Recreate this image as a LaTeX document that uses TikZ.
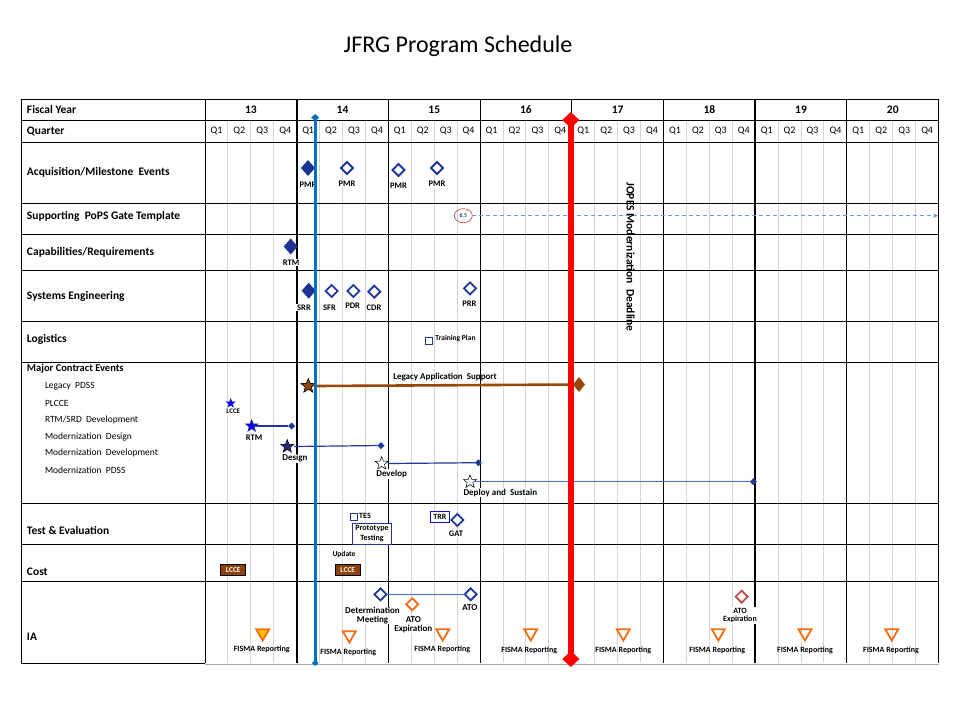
\documentclass[tikz,border=0pt]{standalone}
\usepackage{fontspec}
\setmainfont{Carlito}
\usetikzlibrary{shapes.geometric,arrows.meta}

\definecolor{msnavy}{RGB}{31,56,156}
\definecolor{fillnavy}{RGB}{30,50,150}
\definecolor{barblue}{RGB}{0,112,192}
\definecolor{barred}{RGB}{255,0,0}
\definecolor{legacybrown}{RGB}{151,72,6}
\definecolor{costbrown}{RGB}{140,65,10}
\definecolor{iaorange}{RGB}{246,110,20}
\definecolor{fismayellow}{RGB}{255,192,0}
\definecolor{expred}{RGB}{192,80,77}
\definecolor{linkblue}{RGB}{68,114,196}
\definecolor{gridgray}{RGB}{212,212,212}
\definecolor{dashblue}{RGB}{110,150,240}
\definecolor{starblue}{RGB}{10,10,235}
\definecolor{stardark}{RGB}{40,40,120}

\newcommand{\setfs}[1]{\fontsize{#1}{#1}\selectfont}

\begin{document}
\begin{tikzpicture}[x=1pt, y=-1pt,
  every node/.style={inner sep=0pt, outer sep=0pt},
  rowlab/.style={anchor=west, font=\setfs{11.5}\bfseries},
  sublab/.style={anchor=west, font=\setfs{9.5}},
  qlab/.style={font=\setfs{10}},
  yrlab/.style={font=\setfs{11.5}\bfseries},
  mlab/.style={font=\setfs{8.5}\bfseries, fill=white, inner sep=0.8pt, align=center},
  hollow/.style={diamond, draw=msnavy, line width=1.8pt, fill=white, minimum width=12pt, minimum height=12pt},
  fullms/.style={diamond, fill=fillnavy, minimum width=14pt, minimum height=16pt},
  enddot/.style={diamond, fill=msnavy, minimum size=7pt},
  starmark/.style={star, star points=5, star point ratio=2.4, draw=black, line width=0.5pt},
  fisma/.style={regular polygon, regular polygon sides=3, shape border rotate=180, draw=iaorange, line width=1.8pt, minimum size=15pt},
  notemark/.style={draw=msnavy, line width=0.9pt, minimum width=7pt, minimum height=7pt},
  gridq/.style={draw=gridgray, line width=1pt},
  rule/.style={draw=black, line width=1pt}]

\useasboundingbox[fill=white] (0,0) rectangle (960,720);

% title
\node[anchor=base, font=\setfs{24}] (title) at (458,52) {JFRG Program Schedule};

% quarter grid lines
\foreach \yr in {0,...,7}
  \foreach \q in {1,2,3}
    \draw[gridq] ({205+\yr*91.7+\q*22.925},120) -- ({205+\yr*91.7+\q*22.925},663);

% horizontal rules
\foreach \yy in {99.5,120,142.7,203,234,270,321,362,503,544,581}
  \draw[rule] (21,\yy) -- (938.6,\yy);
\draw[rule] (21,663) -- (205,663);
\draw[draw=gray!70, line width=1pt] (205,664) -- (938.6,664);

% vertical rules
\draw[rule] (21,99.5) -- (21,663);
\draw[rule] (205,99.5) -- (205,663);
\foreach \i in {2,3,4,5,7,8}
  \draw[rule] ({205+\i*91.7},99.5) -- ({205+\i*91.7},663);
\foreach \i in {1,6}
  \draw[draw=black, line width=2.2pt] ({205+\i*91.7},99.5) -- ({205+\i*91.7},663);

% header
\node[rowlab] (hfy) at (27,109.5) {Fiscal Year};
\node[rowlab] (hq) at (27,131) {Quarter};
\foreach \yr/\lab in {0/13,1/14,2/15,3/16,4/17,5/18,6/19,7/20}
  \node[yrlab] (fy\lab) at ({205+(\yr+0.5)*91.7},109.5) {\lab};
\foreach \yr in {0,...,7}
  \foreach \q in {1,2,3,4}
    \node[qlab] (q\yr-\q) at ({205+\yr*91.7+(\q-0.5)*22.925},131) {Q\q};

% row labels
\node[rowlab] (racq) at (27,172.5) {Acquisition/Milestone\ \ Events};
\node[rowlab] (rpops) at (27,216) {Supporting\ \ PoPS Gate Template};
\node[rowlab] (rcap) at (27,252.7) {Capabilities/Requirements};
\node[rowlab] (rse) at (27,296) {Systems Engineering};
\node[rowlab] (rlog) at (27,339.3) {Logistics};
\node[anchor=west, font=\setfs{10.5}\bfseries] (rmce) at (27,369) {Major Contract Events};
\node[sublab] (s1) at (45,386) {Legacy\ \ PDSS};
\node[sublab] (s2) at (45,403.3) {PLCCE};
\node[sublab] (s3) at (45,420) {RTM/SRD\ \ Development};
\node[sublab] (s4) at (45,437.3) {Modernization\ \ Design};
\node[sublab] (s5) at (45,453.3) {Modernization\ \ Development};
\node[sublab] (s6) at (45,470) {Modernization\ \ PDSS};
\node[rowlab] (rte) at (27,530) {Test \& Evaluation};
\node[rowlab] (rcost) at (27,571.7) {Cost};
\node[rowlab] (ria) at (27,636.7) {IA};

% acquisition milestones
\node[fullms] (pmr1) at (308,168) {};
\node[mlab] (pmr1l) at (308,184.5) {PMR};
\node[hollow] (pmr2) at (347,168) {};
\node[mlab] (pmr2l) at (347,183.5) {PMR};
\node[hollow] (pmr3) at (398.5,170) {};
\node[mlab] (pmr3l) at (398.5,185.5) {PMR};
\node[hollow] (pmr4) at (437,168) {};
\node[mlab] (pmr4l) at (437,184) {PMR};

% PoPS gate
\node[ellipse, draw=expred, line width=0.7pt, minimum width=18pt, minimum height=14pt, font=\setfs{6}] (gate) at (463.3,215.7) {6.5};
\coordinate (gateend) at (938,215.7);
\draw[dashblue, line width=1.2pt, dash pattern=on 4pt off 3pt, -{Stealth[length=5pt,width=4.5pt]}] (gate.east) -- (gateend);

% capabilities
\node[fullms] (rtmc) at (290.7,246.5) {};
\node[mlab] (rtmcl) at (291,262.3) {RTM};

% systems engineering
\node[fullms] (srr) at (308.7,290.7) {};
\node[mlab] (srrl) at (304,307.3) {SRR};
\node[hollow] (sfr) at (331.7,291) {};
\node[mlab] (sfrl) at (329.5,307.3) {SFR};
\node[hollow] (pdr) at (353.3,291) {};
\node[mlab] (pdrl) at (352.7,306) {PDR};
\node[hollow] (cdr) at (374.3,291.7) {};
\node[mlab] (cdrl) at (374,307.3) {CDR};
\node[hollow] (prr) at (470,288.3) {};
\node[mlab] (prrl) at (469.3,303.3) {PRR};

% logistics
\node[notemark] (tplan) at (428.5,340.5) {};
\node[font=\setfs{7.5}\bfseries] (tplanl) at (455.5,338.3) {Training Plan};

% major contract events
\node[diamond, fill=legacybrown, minimum width=12pt, minimum height=15pt] (legend) at (579,384.5) {};
\node[starmark, fill=legacybrown, minimum size=15pt] (legstar) at (308.3,386) {};
\draw[legacybrown, line width=2.6pt] (legstar.center -| 316,384.5) -- (legend.center);
\node[starmark, fill=legacybrown, minimum size=15pt] (legstar2) at (308.3,386) {};
\node[font=\setfs{9}\bfseries] (legl) at (445,377) {Legacy Application\ \ Support};

\node[starmark, fill=starblue, draw=starblue, minimum size=9pt] (plcce) at (230.7,403.3) {};
\node[mlab, font=\setfs{7}\bfseries] (plccel) at (233.3,411.7) {LCCE};

\node[enddot] (rtmend) at (291.7,426) {};
\node[starmark, fill=starblue, draw=stardark, minimum size=13pt] (rtmstar) at (251.7,426) {};
\draw[msnavy, line width=1.2pt] (rtmstar) -- (rtmend);
\node[mlab] (rtmstarl) at (254,437.7) {RTM};

\node[enddot] (desend) at (381,445.5) {};
\node[starmark, fill=stardark, minimum size=14pt] (desstar) at (287.3,446.5) {};
\draw[msnavy, line width=1.2pt] (desstar.center -| 294,445.5) -- (desend);
\node[mlab, font=\setfs{9}\bfseries] (desl) at (295,458.3) {Design};

\node[enddot] (devend) at (478.3,462.7) {};
\node[starmark, fill=white, minimum size=14pt] (devstar) at (381.7,463.5) {};
\draw[msnavy, line width=1.2pt] (devstar.center -| 388,462.7) -- (devend);
\node[mlab, font=\setfs{9}\bfseries] (devl) at (391.7,474) {Develop};

\node[enddot] (depend) at (753.3,481.7) {};
\node[starmark, fill=white, minimum size=14pt] (depstar) at (470,481.7) {};
\draw[linkblue, line width=1.3pt] (depstar) -- (depend);
\node[mlab, font=\setfs{9}\bfseries] (depl) at (500.3,492.7) {Deploy and\ \ Sustain};

% test and evaluation
\node[notemark] (tes) at (354.3,517.3) {};
\node[font=\setfs{8}\bfseries] (tesl) at (365,515.7) {TES};
\node[draw=msnavy, line width=1.2pt, fill=white, minimum width=39pt, minimum height=21pt, font=\setfs{8}\bfseries, align=center] (proto) at (372,533.8) {Prototype\\[1.5pt]Testing};
\node[draw=starblue, line width=1pt, fill=white, minimum width=19.5pt, minimum height=11pt, font=\setfs{8}\bfseries] (trr) at (439.8,517.2) {TRR};
\node[hollow] (gat) at (457.3,520) {};
\node[mlab] (gatl) at (456,533.3) {GAT};

% cost
\node[font=\setfs{7.5}\bfseries] (updl) at (344,554.3) {Update};
\node[draw=black, line width=0.8pt, fill=costbrown, text=white, minimum width=25pt, minimum height=11pt, font=\setfs{7.5}\bfseries] (lcce1) at (233.3,570) {LCCE};
\node[draw=black, line width=0.8pt, fill=costbrown, text=white, minimum width=25pt, minimum height=11pt, font=\setfs{7.5}\bfseries] (lcce2) at (347.8,570) {LCCE};

% information assurance
\node[hollow] (detm) at (380.5,594.3) {};
\node[hollow] (ato) at (470.7,594.3) {};
\draw[linkblue, line width=1.3pt] (detm) -- (ato);
\node[mlab, font=\setfs{9}\bfseries, inner sep=0.5pt] (detml) at (372.5,615.5) {Determination\\Meeting};
\node[mlab, font=\setfs{9}\bfseries] (atol) at (470,607.7) {ATO};
\node[hollow, draw=iaorange] (atoexp) at (412.3,604.3) {};
\node[mlab, font=\setfs{9}\bfseries, inner sep=0.5pt] (atoexpl) at (413.3,624.5) {ATO\\Expiration};
\node[hollow, draw=expred] (atoexp2) at (741.7,596.7) {};
\node[mlab, font=\setfs{8}\bfseries, inner sep=1pt] (atoexp2l) at (740,615.7) {ATO\\Expiration};

\node[fisma, fill=fismayellow] (f1) at (262.7,633) {};
\node[fisma] (f2) at (349.3,635) {};
\node[fisma] (f3) at (442.7,633) {};
\node[fisma] (f4) at (530.7,633) {};
\node[fisma] (f5) at (623.3,633) {};
\node[fisma] (f6) at (718.3,633) {};
\node[fisma] (f7) at (805,633) {};
\node[fisma] (f8) at (891.7,633) {};
\foreach \n/\xx/\yy in {1/261.7/649.5,2/348.3/652.7,3/442.3/649.5,4/529.3/650,5/623.3/650,6/717.3/650,7/805/650,8/891/650}
  \node[font=\setfs{8}\bfseries] (fl\n) at (\xx,\yy) {FISMA Reporting};

% status date bar
\coordinate (bluetop) at (315.2,114);
\coordinate (bluebot) at (315.2,666);
\draw[barblue, line width=3.3pt, {Diamond[length=7pt,width=8pt]}-{Diamond[length=6pt,width=7pt]}] (bluetop) -- (bluebot);

% modernization deadline bar
\coordinate (redtop) at (570.8,112);
\coordinate (redbot) at (570.8,667);
\draw[barred, line width=6pt, {Diamond[length=16pt,width=17pt]}-{Diamond[length=16pt,width=17pt]}] (redtop) -- (redbot);
\node[rotate=-90, font=\setfs{11.5}\bfseries] (jopes) at (630.5,257) {JOPES Modernization\ \ Deadline};

\end{tikzpicture}
\end{document}
